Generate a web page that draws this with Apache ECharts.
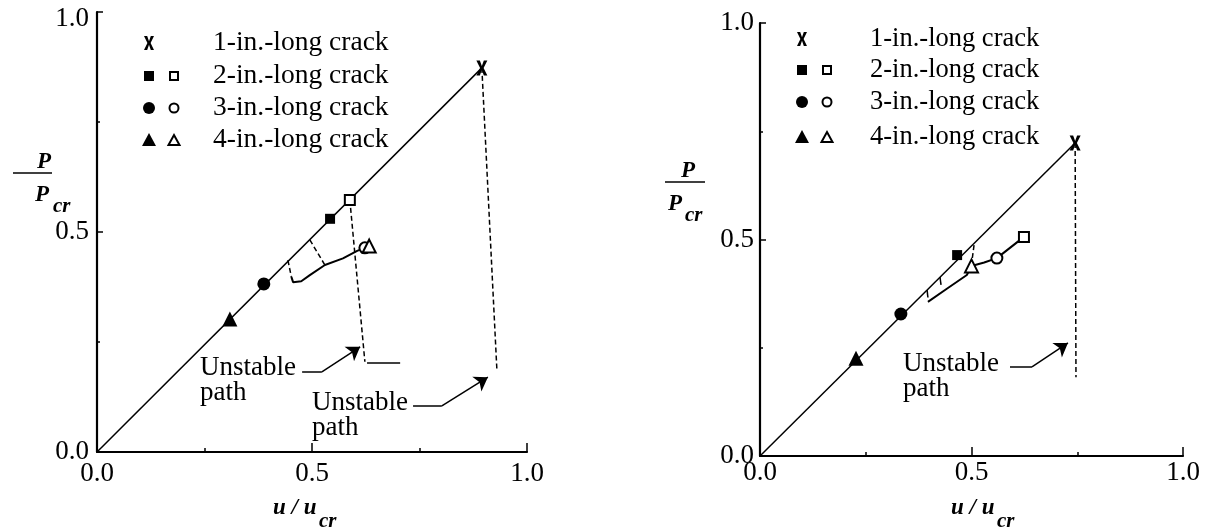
<!DOCTYPE html>
<html><head><meta charset="utf-8">
<script src="https://cdn.jsdelivr.net/npm/echarts@6/dist/echarts.min.js"></script>
<style>html,body{margin:0;padding:0;background:#fff}#c{width:1208px;height:531px}</style>
</head><body><div id="c"></div>
<script>
// ---------- data (u/ucr, P/Pcr) ----------
const tickLabels = ['0.0', '0.5', '1.0'];
const legendLabels = ['1-in.-long crack', '2-in.-long crack', '3-in.-long crack', '4-in.-long crack'];

// Left panel
const L_main = [[0, 0], [0.895, 0.873]];
const L_filledTri = [[0.309, 0.302]];
const L_filledCirc = [[0.388, 0.382]];
const L_filledSq = [[0.542, 0.530]];
const L_openSq = [[0.588, 0.573]];
const L_openCirc = [[0.623, 0.464]];
const L_openTri = [[0.633, 0.468]];
const L_x = [[0.895, 0.873]];
const L_dash1 = [[0.895, 0.873], [0.930, 0.186]];
const L_dash2 = [[0.588, 0.573], [0.623, 0.205]];
const L_dash3 = [[0.495, 0.482], [0.530, 0.425]];
const L_dash4 = [[0.444, 0.436], [0.452, 0.398]];
const L_curve = [[0.452, 0.398], [0.456, 0.386], [0.475, 0.388], [0.495, 0.402], [0.530, 0.425], [0.572, 0.440], [0.605, 0.457], [0.623, 0.464]];
const L_drop = [[0.628, 0.202], [0.705, 0.202]];
const L_arrow1 = [[0.477, 0.182], [0.523, 0.182], [0.612, 0.239]];
const L_arrow2 = [[0.735, 0.105], [0.802, 0.105], [0.909, 0.170]];
const L_text = [[0.2395, 0.1625, 'Unstable\npath'], [0.500, 0.083, 'Unstable\npath']];

// Right panel
const R_main = [[0, 0], [0.745, 0.723]];
const R_filledTri = [[0.227, 0.226]];
const R_filledCirc = [[0.333, 0.328]];
const R_filledSq = [[0.466, 0.464]];
const R_openSq = [[0.624, 0.506]];
const R_openCirc = [[0.560, 0.457]];
const R_openTri = [[0.500, 0.439]];
const R_x = [[0.745, 0.723]];
const R_dash1 = [[0.745, 0.723], [0.747, 0.182]];
const R_dash2 = [[0.506, 0.487], [0.501, 0.450]];
const R_tick1 = [[0.4255, 0.413], [0.428, 0.395]];
const R_tick2 = [[0.395, 0.383], [0.397, 0.366]];
const R_curve = [[0.397, 0.356], [0.440, 0.385], [0.489, 0.418], [0.500, 0.439], [0.530, 0.447], [0.560, 0.457], [0.624, 0.506]];
const R_arrow = [[0.591, 0.206], [0.643, 0.206], [0.728, 0.261]];
const R_text = [[0.338, 0.184, 'Unstable\npath']];

// ---------- helpers ----------
const SERIF = '"Liberation Serif", "DejaVu Serif", serif';
const XPTS = [[0,0],[3.2,0],[5,5.2],[6.8,0],[10,0],[6.6,7],[10,14],[6.8,14],[5,8.8],[3.2,14],[0,14],[3.4,7]];
const XPATH = 'path://M' + XPTS.map(p => p[0] + ',' + p[1]).join(' L') + ' Z';

function xAxis(gi) {
  return {
    type: 'value', gridIndex: gi, min: 0, max: 1, interval: 0.5,
    axisLine: { lineStyle: { color: '#000', width: 2.2 } },
    axisTick: { show: true, inside: true, length: 9, lineStyle: { color: '#000', width: 1.5 } },
    minorTick: { show: true, splitNumber: 2, length: 4, lineStyle: { color: '#000', width: 1.5 } },
    splitLine: { show: false },
    axisLabel: { color: '#000', fontFamily: SERIF, fontSize: 27, margin: gi === 0 ? 8 : 3,
      formatter: v => tickLabels[Math.round(v * 2)] }
  };
}
function yAxis(gi) {
  return {
    type: 'value', gridIndex: gi, min: 0, max: 1, interval: 0.5,
    axisLine: { lineStyle: { color: '#000', width: 2.2 } },
    axisTick: { show: true, inside: true, length: 6, lineStyle: { color: '#000', width: 1.5 } },
    minorTick: { show: true, splitNumber: 2, length: 3, lineStyle: { color: '#000', width: 1.5 } },
    splitLine: { show: false },
    axisLabel: { color: '#000', fontFamily: SERIF, fontSize: 27, margin: gi === 0 ? 8 : 6,
      formatter: v => (gi === 0 && v === 1) ? '{top|' + tickLabels[2] + '}' : tickLabels[Math.round(v * 2)],
      rich: { top: { fontFamily: SERIF, fontSize: 27, color: '#000', padding: [14, 0, 0, 0] } } }
  };
}
function line(gi, data, dashed, w) {
  return { type: 'line', xAxisIndex: gi, yAxisIndex: gi, data: data, symbol: 'none', z: 2,
    lineStyle: { color: '#000', width: w || 1.5, type: dashed ? [5, 3] : 'solid' }, silent: true };
}
function marks(gi, data, symbol, size, open) {
  return { type: 'scatter', xAxisIndex: gi, yAxisIndex: gi, data: data, symbol: symbol, symbolSize: size, z: 5,
    itemStyle: open ? { color: '#fff', borderColor: '#000', borderWidth: 2, opacity: 1 } : { color: '#000', opacity: 1 } };
}
function arrow(gi, pts) {
  return [
    { type: 'lines', coordinateSystem: 'cartesian2d', xAxisIndex: gi, yAxisIndex: gi, z: 3,
      data: [{ coords: [pts[0], pts[1]] }], symbol: ['none', 'none'],
      lineStyle: { color: '#000', width: 1.5, opacity: 1 } },
    { type: 'lines', coordinateSystem: 'cartesian2d', xAxisIndex: gi, yAxisIndex: gi, z: 3,
      data: [{ coords: [pts[1], pts[2]] }], symbol: ['none', 'arrow'], symbolSize: [7, 13],
      lineStyle: { color: '#000', width: 1.5, opacity: 1 } }
  ];
}
function texts(gi, data) {
  return { type: 'scatter', xAxisIndex: gi, yAxisIndex: gi, symbolSize: 0, z: 6,
    itemStyle: { opacity: 1 },
    data: data.map(d => ({ value: [d[0], d[1]], name: d[2] })),
    label: { show: true, position: 'right', distance: 0, formatter: p => p.name, color: '#000',
      fontFamily: SERIF, fontSize: 27, lineHeight: 25, align: 'left', verticalAlign: 'middle' } };
}

// legend graphics
function legend(sx1, sx2, tx, rows, fs) {
  const g = [];
  g.push({ type: 'polygon', shape: { points: XPTS.map(p => [sx1 - 5 + p[0], rows[0] - 7 + p[1]]) }, style: { fill: '#000' } });
  g.push({ type: 'rect', shape: { x: sx1 - 5, y: rows[1] - 5, width: 10, height: 10 }, style: { fill: '#000' } });
  g.push({ type: 'rect', shape: { x: sx2 - 4, y: rows[1] - 4, width: 8, height: 8 }, style: { fill: '#fff', stroke: '#000', lineWidth: 2 } });
  g.push({ type: 'circle', shape: { cx: sx1, cy: rows[2], r: 6 }, style: { fill: '#000' } });
  g.push({ type: 'circle', shape: { cx: sx2, cy: rows[2], r: 4.5 }, style: { fill: '#fff', stroke: '#000', lineWidth: 2 } });
  g.push({ type: 'polygon', shape: { points: [[sx1 - 7, rows[3] + 6], [sx1 + 7, rows[3] + 6], [sx1, rows[3] - 7]] }, style: { fill: '#000' } });
  g.push({ type: 'polygon', shape: { points: [[sx2 - 5.5, rows[3] + 5], [sx2 + 5.5, rows[3] + 5], [sx2, rows[3] - 5]] }, style: { fill: '#fff', stroke: '#000', lineWidth: 2 } });
  legendLabels.forEach((t, i) => g.push({ type: 'text', x: tx, y: rows[i], style: { text: t, fill: '#000', font: fs + 'px ' + SERIF, textAlign: 'left', textVerticalAlign: 'middle' } }));
  return g;
}
function yName(x0, x1, yb, numX, denX, crX) {
  const f = 'italic bold 23px ' + SERIF, f2 = 'italic bold 21px ' + SERIF;
  return [
    { type: 'line', shape: { x1: x0, y1: yb, x2: x1, y2: yb }, style: { stroke: '#000', lineWidth: 1.5 } },
    { type: 'text', x: numX, y: yb - 11, style: { text: 'P', fill: '#000', font: f, textAlign: 'center', textVerticalAlign: 'middle' } },
    { type: 'text', x: denX, y: yb + 22, style: { text: 'P', fill: '#000', font: f, textAlign: 'center', textVerticalAlign: 'middle' } },
    { type: 'text', x: crX, y: yb + 34, style: { text: 'cr', fill: '#000', font: f2, textAlign: 'left', textVerticalAlign: 'middle' } }
  ];
}
function xName(x, crX, y) {
  const f = 'italic bold 23px ' + SERIF, f2 = 'italic bold 21px ' + SERIF;
  return [
    { type: 'text', x: x, y: y, style: { text: 'u / u', fill: '#000', font: f, textAlign: 'left', textVerticalAlign: 'middle' } },
    { type: 'text', x: crX, y: y + 14, style: { text: 'cr', fill: '#000', font: f2, textAlign: 'left', textVerticalAlign: 'middle' } }
  ];
}

const series = [
  line(0, L_main), line(0, L_curve, false, 2), line(0, L_drop),
  line(0, L_dash1, true), line(0, L_dash2, true), line(0, L_dash3, true), line(0, L_dash4, true),
  marks(0, L_filledTri, 'triangle', 15), marks(0, L_filledCirc, 'circle', 13), marks(0, L_filledSq, 'rect', 10),
  marks(0, L_openSq, 'rect', 10, true), marks(0, L_openCirc, 'circle', 11, true), marks(0, L_openTri, 'triangle', 13, true),
  marks(0, L_x, XPATH, [11, 15]),
  ...arrow(0, L_arrow1), ...arrow(0, L_arrow2), texts(0, L_text),

  line(1, R_main), line(1, R_curve, false, 2),
  line(1, R_dash1, true), line(1, R_dash2, true), line(1, R_tick1), line(1, R_tick2),
  marks(1, R_filledTri, 'triangle', 15), marks(1, R_filledCirc, 'circle', 13), marks(1, R_filledSq, 'rect', 10),
  marks(1, R_openSq, 'rect', 10, true), marks(1, R_openCirc, 'circle', 11, true), marks(1, R_openTri, 'triangle', 13, true),
  marks(1, R_x, XPATH, [11, 15]),
  ...arrow(1, R_arrow), texts(1, R_text)
];

const chart = echarts.init(document.getElementById('c'), null, { renderer: 'canvas' });
chart.setOption({
  animation: false,
  backgroundColor: '#fff',
  grid: [
    { left: 97, top: 12, width: 430, height: 440 },
    { left: 760, top: 23, width: 423, height: 433 }
  ],
  xAxis: [xAxis(0), xAxis(1)],
  yAxis: [yAxis(0), yAxis(1)],
  series: series,
  graphic: [
    ...legend(149, 174, 213, [43, 76, 108, 140], 27.5),
    ...legend(802, 827, 870, [39, 70, 102, 137], 26.5),
    ...yName(13, 52, 173, 44, 42, 53),
    ...yName(665, 705, 182, 688, 675, 685),
    ...xName(273, 319, 508),
    ...xName(951, 997, 508)
  ]
});
</script></body></html>
